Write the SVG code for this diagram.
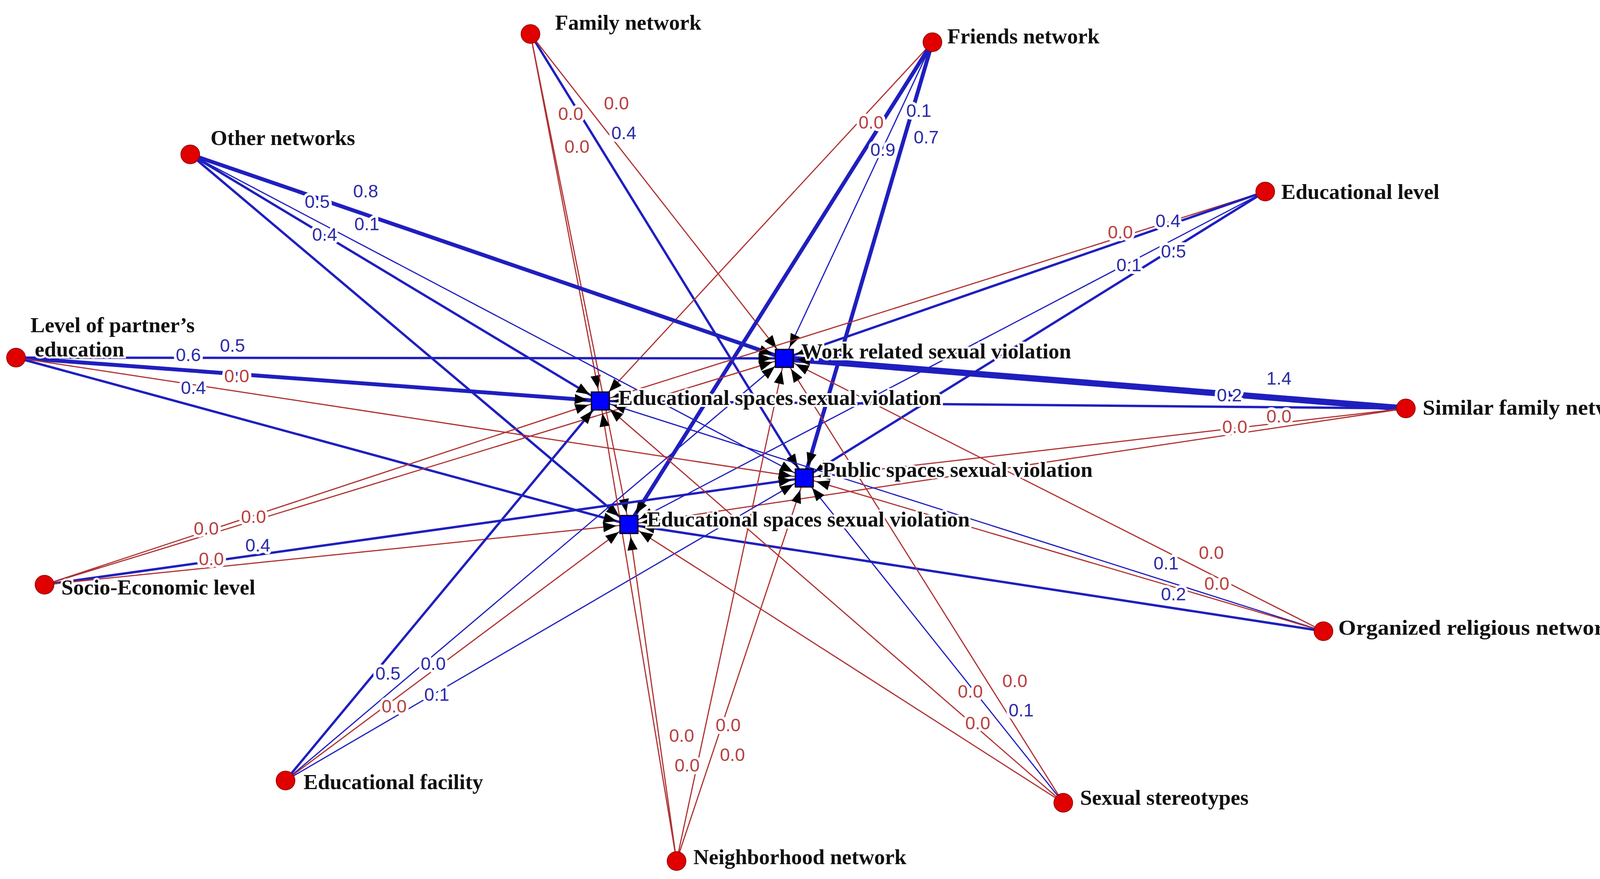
<svg xmlns="http://www.w3.org/2000/svg" width="4243" height="2249" viewBox="0 0 4243 2249">
<style>
.b{stroke:#1f1fbf;fill:none}
.r{stroke:#b03232;fill:none;stroke-width:3}
.t1{stroke-width:3}.t2{stroke-width:6}.t3{stroke-width:10}.t4{stroke-width:16}
.el{font-family:"Liberation Sans",Arial,sans-serif;font-size:46px;text-anchor:middle;stroke:#fff;stroke-width:14px;paint-order:stroke;stroke-linejoin:round}
.lb{fill:#2b2ba8}.lr{fill:#b84040}
.nl{font-family:"Liberation Serif","Times New Roman",serif;font-weight:bold;font-size:55px;fill:#111;stroke:#fff;stroke-width:10px;paint-order:stroke}
.src{fill:#e00000;stroke:#900;stroke-width:2}
.tgt{fill:#0000ff;stroke:#000;stroke-width:3}
</style>
<defs>
<marker id="ar" markerUnits="userSpaceOnUse" viewBox="0 0 34 26" markerWidth="34" markerHeight="26" refX="66" refY="13" orient="auto"><path d="M0,0 L34,13 L0,26 z" fill="#000"/></marker>
</defs>
<rect width="4243" height="2249" fill="#fff"/>
<g id="connectors" marker-end="url(#ar)">
<line class="r" x1="1358" y1="87" x2="1537" y2="1026"/>
<line class="r" x1="1358" y1="87" x2="1610" y2="1342"/>
<line class="b t2" x1="1358" y1="87" x2="2059" y2="1223"/>
<line class="r" x1="1358" y1="87" x2="2008" y2="917"/>
<line class="r" x1="2387" y1="108" x2="1537" y2="1026"/>
<line class="b t3" x1="2387" y1="108" x2="1610" y2="1342"/>
<line class="b t3" x1="2387" y1="108" x2="2059" y2="1223"/>
<line class="b t1" x1="2387" y1="108" x2="2008" y2="917"/>
<line class="b t3" x1="487" y1="395" x2="2008" y2="917"/>
<line class="b t2" x1="487" y1="395" x2="1537" y2="1026"/>
<line class="b t1" x1="487" y1="395" x2="2059" y2="1223"/>
<line class="b t2" x1="487" y1="395" x2="1610" y2="1342"/>
<line class="r" x1="3239" y1="490" x2="1537" y2="1026"/>
<line class="b t2" x1="3239" y1="490" x2="2008" y2="917"/>
<line class="b t2" x1="3239" y1="490" x2="2059" y2="1223"/>
<line class="b t1" x1="3239" y1="490" x2="1610" y2="1342"/>
<line class="b t2" x1="41" y1="915" x2="2008" y2="917"/>
<line class="b t3" x1="41" y1="915" x2="1537" y2="1026"/>
<line class="r" x1="41" y1="915" x2="2059" y2="1223"/>
<line class="b t2" x1="41" y1="915" x2="1610" y2="1342"/>
<line class="b t4" x1="3599" y1="1045" x2="2008" y2="917"/>
<line class="b t2" x1="3599" y1="1045" x2="1537" y2="1026"/>
<line class="r" x1="3599" y1="1045" x2="2059" y2="1223"/>
<line class="r" x1="3599" y1="1045" x2="1610" y2="1342"/>
<line class="r" x1="114" y1="1496" x2="1537" y2="1026"/>
<line class="r" x1="114" y1="1496" x2="2008" y2="917"/>
<line class="b t2" x1="114" y1="1496" x2="2059" y2="1223"/>
<line class="r" x1="114" y1="1496" x2="1610" y2="1342"/>
<line class="b t1" x1="3388" y1="1615" x2="1537" y2="1026"/>
<line class="r" x1="3388" y1="1615" x2="2008" y2="917"/>
<line class="r" x1="3388" y1="1615" x2="2059" y2="1223"/>
<line class="b t2" x1="3388" y1="1615" x2="1610" y2="1342"/>
<line class="b t2" x1="731" y1="1997" x2="1537" y2="1026"/>
<line class="b t1" x1="731" y1="1997" x2="2008" y2="917"/>
<line class="r" x1="731" y1="1997" x2="1610" y2="1342"/>
<line class="b t1" x1="731" y1="1997" x2="2059" y2="1223"/>
<line class="r" x1="2722" y1="2054" x2="1537" y2="1026"/>
<line class="r" x1="2722" y1="2054" x2="1610" y2="1342"/>
<line class="r" x1="2722" y1="2054" x2="2008" y2="917"/>
<line class="b t1" x1="2722" y1="2054" x2="2059" y2="1223"/>
<line class="r" x1="1732" y1="2203" x2="1537" y2="1026"/>
<line class="r" x1="1732" y1="2203" x2="1610" y2="1342"/>
<line class="r" x1="1732" y1="2203" x2="2008" y2="917"/>
<line class="r" x1="1732" y1="2203" x2="2059" y2="1223"/>
</g>
<g id="edge-labels" class="el">
<text class="lr" x="1461" y="307">0.0</text><text class="lr" x="1578" y="280">0.0</text><text class="lb" x="1597" y="356">0.4</text><text class="lr" x="1477" y="391">0.0</text>
<text class="lr" x="2230" y="329">0.0</text><text class="lb" x="2352" y="299">0.1</text><text class="lb" x="2260" y="399">0.9</text><text class="lb" x="2371" y="367">0.7</text>
<text class="lb" x="812" y="532">0.5</text><text class="lb" x="936" y="505">0.8</text><text class="lb" x="939" y="589">0.1</text><text class="lb" x="831" y="616">0.4</text>
<text class="lr" x="2868" y="610">0.0</text><text class="lb" x="2990" y="581">0.4</text><text class="lb" x="2890" y="694">0.1</text><text class="lb" x="3004" y="659">0.5</text>
<text class="lb" x="482" y="924">0.6</text><text class="lb" x="595" y="900">0.5</text><text class="lr" x="606" y="978">0.0</text><text class="lb" x="495" y="1008">0.4</text>
<text class="lb" x="3274" y="984">1.4</text><text class="lb" x="3147" y="1027">0.2</text><text class="lr" x="3161" y="1108">0.0</text><text class="lr" x="3274" y="1081">0.0</text>
<text class="lr" x="528" y="1368">0.0</text><text class="lr" x="649" y="1338">0.0</text><text class="lr" x="541" y="1446">0.0</text><text class="lb" x="660" y="1411">0.4</text>
<text class="lb" x="2985" y="1457">0.1</text><text class="lr" x="3101" y="1430">0.0</text><text class="lr" x="3115" y="1509">0.0</text><text class="lb" x="3004" y="1536">0.2</text>
<text class="lb" x="993" y="1739">0.5</text><text class="lb" x="1109" y="1714">0.0</text><text class="lr" x="1009" y="1823">0.0</text><text class="lb" x="1118" y="1793">0.1</text>
<text class="lr" x="2484" y="1785">0.0</text><text class="lr" x="2598" y="1758">0.0</text><text class="lr" x="2503" y="1866">0.0</text><text class="lb" x="2614" y="1833">0.1</text>
<text class="lr" x="1745" y="1898">0.0</text><text class="lr" x="1864" y="1871">0.0</text><text class="lr" x="1759" y="1974">0.0</text><text class="lr" x="1875" y="1947">0.0</text>
</g>
<g id="n-family"><circle class="src" cx="1358" cy="87" r="24"/><text class="nl" x="1421" y="76">Family network</text></g>
<g id="n-friends"><circle class="src" cx="2387" cy="108" r="24"/><text class="nl" x="2425" y="111">Friends network</text></g>
<g id="n-other"><circle class="src" cx="487" cy="395" r="24"/><text class="nl" x="539" y="371">Other networks</text></g>
<g id="n-edulevel"><circle class="src" cx="3239" cy="490" r="24"/><text class="nl" x="3280" y="509">Educational level</text></g>
<g id="n-partner"><circle class="src" cx="41" cy="915" r="24"/><text class="nl" x="78" y="850">Level of partner’s</text><text class="nl" x="89" y="912">education</text></g>
<g id="n-similar"><circle class="src" cx="3599" cy="1045" r="24"/><text class="nl" x="3642" y="1061" textLength="570" lengthAdjust="spacingAndGlyphs">Similar family network</text></g>
<g id="n-socio"><circle class="src" cx="114" cy="1496" r="24"/><text class="nl" x="157" y="1521">Socio-Economic level</text></g>
<g id="n-religious"><circle class="src" cx="3388" cy="1615" r="24"/><text class="nl" x="3426" y="1624" textLength="736" lengthAdjust="spacingAndGlyphs">Organized religious networks</text></g>
<g id="n-edufacility"><circle class="src" cx="731" cy="1997" r="24"/><text class="nl" x="777" y="2019">Educational facility</text></g>
<g id="n-stereotypes"><circle class="src" cx="2722" cy="2054" r="24"/><text class="nl" x="2765" y="2059">Sexual stereotypes</text></g>
<g id="n-neighborhood"><circle class="src" cx="1732" cy="2203" r="24"/><text class="nl" x="1775" y="2211">Neighborhood network</text></g>
<g id="t-work"><rect class="tgt" x="1985" y="894" width="46" height="46"/><text class="nl" x="2051" y="917">Work related sexual violation</text></g>
<g id="t-edu1"><rect class="tgt" x="1514" y="1003" width="46" height="46"/><text class="nl" x="1583" y="1036">Educational spaces sexual violation</text></g>
<g id="t-public"><rect class="tgt" x="2036" y="1200" width="46" height="46"/><text class="nl" x="2105" y="1220">Public spaces sexual violation</text></g>
<g id="t-edu2"><rect class="tgt" x="1587" y="1319" width="46" height="46"/><text class="nl" x="1656" y="1347">Educational spaces sexual violation</text></g>
</svg>
